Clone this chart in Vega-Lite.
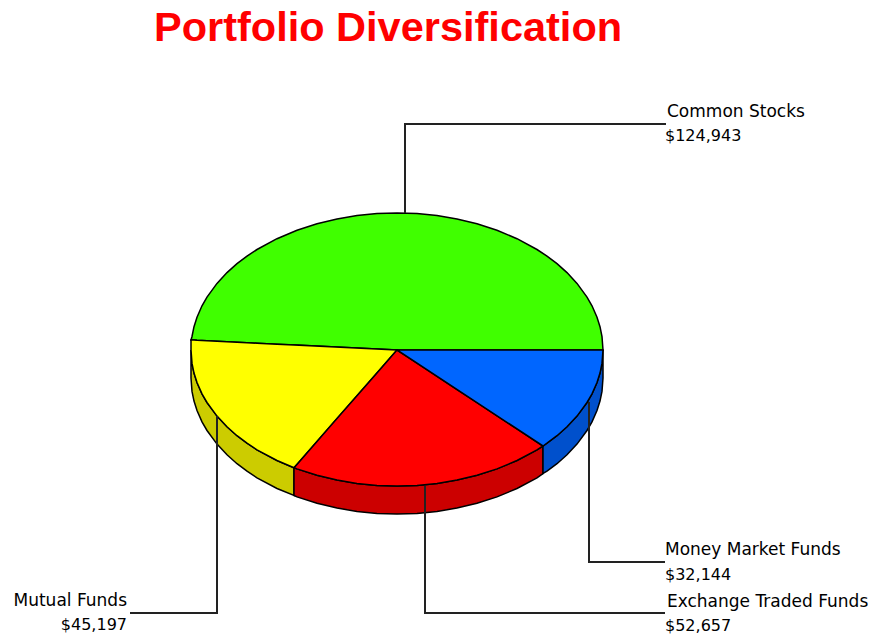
{"$schema":"https://vega.github.io/schema/vega-lite/v6.json","width":869,"height":636,"padding":0,"autosize":{"type":"none"},"background":"white",
"view":{"stroke":null},
"datasets":{
"wall":[
{"part":"Mutual Funds side","x":191,"y":350,"y2":378},{"part":"Mutual Funds side","x":192,"y":363.4,"y2":391.4},{"part":"Mutual Funds side","x":194,"y":373.1,"y2":401.1},{"part":"Mutual Funds side","x":197,"y":382.6,"y2":410.6},{"part":"Mutual Funds side","x":202,"y":393.9,"y2":421.9},{"part":"Mutual Funds side","x":207,"y":402.5,"y2":430.5},{"part":"Mutual Funds side","x":217,"y":416.1,"y2":444.1},{"part":"Mutual Funds side","x":227,"y":426.8,"y2":454.8},{"part":"Mutual Funds side","x":237,"y":435.7,"y2":463.7},{"part":"Mutual Funds side","x":247,"y":443.2,"y2":471.2},{"part":"Mutual Funds side","x":257,"y":449.8,"y2":477.8},{"part":"Mutual Funds side","x":277,"y":460.5,"y2":488.5},{"part":"Mutual Funds side","x":294,"y":467.8,"y2":495.5},
{"part":"Exchange Traded Funds side","x":294,"y":467.8,"y2":495.5},{"part":"Exchange Traded Funds side","x":297,"y":468.9,"y2":496.9},{"part":"Exchange Traded Funds side","x":317,"y":475.3,"y2":503.3},{"part":"Exchange Traded Funds side","x":337,"y":480.1,"y2":508.1},{"part":"Exchange Traded Funds side","x":357,"y":483.4,"y2":511.4},{"part":"Exchange Traded Funds side","x":377,"y":485.4,"y2":513.4},{"part":"Exchange Traded Funds side","x":397,"y":486,"y2":514},{"part":"Exchange Traded Funds side","x":417,"y":485.4,"y2":513.4},{"part":"Exchange Traded Funds side","x":437,"y":483.4,"y2":511.4},{"part":"Exchange Traded Funds side","x":457,"y":480.1,"y2":508.1},{"part":"Exchange Traded Funds side","x":477,"y":475.3,"y2":503.3},{"part":"Exchange Traded Funds side","x":497,"y":468.9,"y2":496.9},{"part":"Exchange Traded Funds side","x":517,"y":460.5,"y2":488.5},{"part":"Exchange Traded Funds side","x":537,"y":449.8,"y2":477.8},{"part":"Exchange Traded Funds side","x":543,"y":446,"y2":473.5},
{"part":"Money Market Funds side","x":543,"y":446,"y2":473.5},{"part":"Money Market Funds side","x":547,"y":443.2,"y2":471.2},{"part":"Money Market Funds side","x":557,"y":435.7,"y2":463.7},{"part":"Money Market Funds side","x":567,"y":426.8,"y2":454.8},{"part":"Money Market Funds side","x":577,"y":416.1,"y2":444.1},{"part":"Money Market Funds side","x":587,"y":402.5,"y2":430.5},{"part":"Money Market Funds side","x":592,"y":393.9,"y2":421.9},{"part":"Money Market Funds side","x":597,"y":382.6,"y2":410.6},{"part":"Money Market Funds side","x":600,"y":373.1,"y2":401.1},{"part":"Money Market Funds side","x":602,"y":363.4,"y2":391.4},{"part":"Money Market Funds side","x":603,"y":350,"y2":378}
],
"face":[
{"part":"Common Stocks","x":191,"y":340,"y2":340},{"part":"Common Stocks","x":192,"y":336.5,"y2":340},{"part":"Common Stocks","x":194,"y":326.7,"y2":340.1},{"part":"Common Stocks","x":197,"y":317.2,"y2":340.3},{"part":"Common Stocks","x":202,"y":305.8,"y2":340.5},{"part":"Common Stocks","x":207,"y":297.1,"y2":340.8},{"part":"Common Stocks","x":217,"y":283.4,"y2":341.3},{"part":"Common Stocks","x":227,"y":272.6,"y2":341.7},{"part":"Common Stocks","x":237,"y":263.7,"y2":342.2},{"part":"Common Stocks","x":247,"y":256.1,"y2":342.7},{"part":"Common Stocks","x":257,"y":249.5,"y2":343.2},{"part":"Common Stocks","x":277,"y":238.7,"y2":344.2},{"part":"Common Stocks","x":297,"y":230.2,"y2":345.1},{"part":"Common Stocks","x":317,"y":223.8,"y2":346.1},{"part":"Common Stocks","x":337,"y":219,"y2":347.1},{"part":"Common Stocks","x":357,"y":215.6,"y2":348.1},{"part":"Common Stocks","x":377,"y":213.6,"y2":349},{"part":"Common Stocks","x":397,"y":213,"y2":350},{"part":"Common Stocks","x":417,"y":213.6,"y2":350},{"part":"Common Stocks","x":437,"y":215.6,"y2":350},{"part":"Common Stocks","x":457,"y":219,"y2":350},{"part":"Common Stocks","x":477,"y":223.8,"y2":350},{"part":"Common Stocks","x":497,"y":230.2,"y2":350},{"part":"Common Stocks","x":517,"y":238.7,"y2":350},{"part":"Common Stocks","x":537,"y":249.5,"y2":350},{"part":"Common Stocks","x":547,"y":256.1,"y2":350},{"part":"Common Stocks","x":557,"y":263.7,"y2":350},{"part":"Common Stocks","x":567,"y":272.6,"y2":350},{"part":"Common Stocks","x":577,"y":283.4,"y2":350},{"part":"Common Stocks","x":587,"y":297.1,"y2":350},{"part":"Common Stocks","x":592,"y":305.8,"y2":350},{"part":"Common Stocks","x":597,"y":317.2,"y2":350},{"part":"Common Stocks","x":600,"y":326.7,"y2":350},{"part":"Common Stocks","x":602,"y":336.5,"y2":350},{"part":"Common Stocks","x":603,"y":350,"y2":350},
{"part":"Mutual Funds","x":191,"y":340,"y2":350},{"part":"Mutual Funds","x":192,"y":340,"y2":363.4},{"part":"Mutual Funds","x":194,"y":340.1,"y2":373.1},{"part":"Mutual Funds","x":197,"y":340.3,"y2":382.6},{"part":"Mutual Funds","x":202,"y":340.5,"y2":393.9},{"part":"Mutual Funds","x":207,"y":340.8,"y2":402.5},{"part":"Mutual Funds","x":217,"y":341.3,"y2":416.1},{"part":"Mutual Funds","x":227,"y":341.7,"y2":426.8},{"part":"Mutual Funds","x":237,"y":342.2,"y2":435.7},{"part":"Mutual Funds","x":247,"y":342.7,"y2":443.2},{"part":"Mutual Funds","x":257,"y":343.2,"y2":449.8},{"part":"Mutual Funds","x":277,"y":344.2,"y2":460.5},{"part":"Mutual Funds","x":294,"y":345,"y2":467.8},{"part":"Mutual Funds","x":397,"y":350,"y2":350},
{"part":"Exchange Traded Funds","x":294,"y":467.8,"y2":467.8},{"part":"Exchange Traded Funds","x":297,"y":464.4,"y2":468.9},{"part":"Exchange Traded Funds","x":317,"y":441.5,"y2":475.3},{"part":"Exchange Traded Funds","x":337,"y":418.6,"y2":480.1},{"part":"Exchange Traded Funds","x":357,"y":395.7,"y2":483.4},{"part":"Exchange Traded Funds","x":377,"y":372.9,"y2":485.4},{"part":"Exchange Traded Funds","x":397,"y":350,"y2":486},{"part":"Exchange Traded Funds","x":417,"y":363.2,"y2":485.4},{"part":"Exchange Traded Funds","x":437,"y":376.4,"y2":483.4},{"part":"Exchange Traded Funds","x":457,"y":389.5,"y2":480.1},{"part":"Exchange Traded Funds","x":477,"y":402.6,"y2":475.3},{"part":"Exchange Traded Funds","x":497,"y":415.8,"y2":468.9},{"part":"Exchange Traded Funds","x":517,"y":428.9,"y2":460.5},{"part":"Exchange Traded Funds","x":537,"y":442.1,"y2":449.8},{"part":"Exchange Traded Funds","x":543,"y":446,"y2":446},
{"part":"Money Market Funds","x":397,"y":350,"y2":350},{"part":"Money Market Funds","x":543,"y":350,"y2":446},{"part":"Money Market Funds","x":547,"y":350,"y2":443.2},{"part":"Money Market Funds","x":557,"y":350,"y2":435.7},{"part":"Money Market Funds","x":567,"y":350,"y2":426.8},{"part":"Money Market Funds","x":577,"y":350,"y2":416.1},{"part":"Money Market Funds","x":587,"y":350,"y2":402.5},{"part":"Money Market Funds","x":592,"y":350,"y2":393.9},{"part":"Money Market Funds","x":597,"y":350,"y2":382.6},{"part":"Money Market Funds","x":600,"y":350,"y2":373.1},{"part":"Money Market Funds","x":602,"y":350,"y2":363.4},{"part":"Money Market Funds","x":603,"y":350,"y2":350}
],
"leaders":[
{"part":"Common Stocks","step":1,"x":405,"y":213},{"part":"Common Stocks","step":2,"x":405,"y":124},{"part":"Common Stocks","step":3,"x":666,"y":124},
{"part":"Money Market Funds","step":1,"x":589,"y":402},{"part":"Money Market Funds","step":2,"x":589,"y":562},{"part":"Money Market Funds","step":3,"x":665,"y":562},
{"part":"Exchange Traded Funds","step":1,"x":425,"y":486},{"part":"Exchange Traded Funds","step":2,"x":425,"y":613},{"part":"Exchange Traded Funds","step":3,"x":665,"y":613},
{"part":"Mutual Funds","step":1,"x":217,"y":416},{"part":"Mutual Funds","step":2,"x":217,"y":613},{"part":"Mutual Funds","step":3,"x":130,"y":613}
],
"heading":[{"text":"Portfolio Diversification","x":154,"y":41}],
"labels":[
{"text":"Common Stocks","kind":"name","x":667,"y":117},{"text":"$124,943","kind":"amount","x":665,"y":141},
{"text":"Money Market Funds","kind":"name","x":665,"y":555},{"text":"$32,144","kind":"amount","x":665,"y":580},
{"text":"Exchange Traded Funds","kind":"name","x":667,"y":607},{"text":"$52,657","kind":"amount","x":665,"y":631}
],
"labelsLeft":[
{"text":"Mutual Funds","kind":"name","x":127,"y":606},{"text":"$45,197","kind":"amount","x":127,"y":630}
]},
"layer":[
{"data":{"name":"wall"},"mark":{"type":"area","stroke":"#000000","strokeWidth":1.5,"opacity":1},
"encoding":{"x":{"field":"x","type":"quantitative","scale":{"domain":[0,869],"nice":false,"zero":false},"axis":null},"y":{"field":"y","type":"quantitative","scale":{"domain":[636,0],"nice":false,"zero":false},"axis":null},"y2":{"field":"y2"},
"color":{"field":"part","type":"nominal","legend":null,"scale":{"domain":["Common Stocks","Mutual Funds","Exchange Traded Funds","Money Market Funds","Mutual Funds side","Exchange Traded Funds side","Money Market Funds side"],"range":["#40FF00","#FFFF00","#FF0000","#0066FF","#CCCC00","#CC0000","#0050CC"]}}}},
{"data":{"name":"face"},"mark":{"type":"area","stroke":"#000000","strokeWidth":1.5,"opacity":1},
"encoding":{"x":{"field":"x","type":"quantitative"},"y":{"field":"y","type":"quantitative"},"y2":{"field":"y2"},"color":{"field":"part","type":"nominal","legend":null}}},
{"data":{"name":"leaders"},"mark":{"type":"line","color":"#222222","strokeWidth":2,"interpolate":"linear"},
"encoding":{"x":{"field":"x","type":"quantitative"},"y":{"field":"y","type":"quantitative"},"detail":{"field":"part"},"order":{"field":"step"}}},
{"data":{"name":"heading"},"mark":{"type":"text","align":"left","baseline":"alphabetic","font":"Liberation Sans","fontWeight":"bold","fontSize":41.5,"color":"#FF0000"},
"encoding":{"x":{"field":"x","type":"quantitative"},"y":{"field":"y","type":"quantitative"},"text":{"field":"text"}}},
{"data":{"name":"labels"},"mark":{"type":"text","align":"left","baseline":"alphabetic","font":"DejaVu Sans","color":"#000000"},
"encoding":{"x":{"field":"x","type":"quantitative"},"y":{"field":"y","type":"quantitative"},"text":{"field":"text"},"size":{"field":"kind","type":"nominal","legend":null,"scale":{"domain":["name","amount"],"range":[17,16]}}}},
{"data":{"name":"labelsLeft"},"mark":{"type":"text","align":"right","baseline":"alphabetic","font":"DejaVu Sans","color":"#000000"},
"encoding":{"x":{"field":"x","type":"quantitative"},"y":{"field":"y","type":"quantitative"},"text":{"field":"text"},"size":{"field":"kind","type":"nominal","legend":null,"scale":{"domain":["name","amount"],"range":[17,16]}}}}
]}
